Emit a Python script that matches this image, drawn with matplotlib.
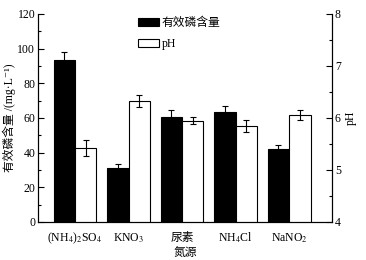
import numpy as np
import matplotlib
matplotlib.use("Agg")
import matplotlib.pyplot as plt
from matplotlib.ticker import MultipleLocator

plt.rcParams['font.family'] = ['Liberation Serif', 'Noto Sans CJK SC', 'DejaVu Serif']
plt.rcParams['mathtext.fontset'] = 'stix'

# data
sources = ["(NH$_4$)$_2$SO$_4$", "KNO$_3$", "尿素", "NH$_4$Cl", "NaNO$_2$"]
phosphorus = [93.2, 31.0, 60.7, 63.2, 42.0]
phosphorus_err = [5.0, 2.5, 4.2, 4.0, 2.5]
ph = [5.42, 6.33, 5.95, 5.85, 6.06]
ph_err = [0.15, 0.11, 0.07, 0.12, 0.10]

x = np.arange(len(sources))
w = 0.4

fig = plt.figure(figsize=(3.66, 2.6), dpi=100)
ax = fig.add_axes([38 / 366, 38 / 260, 294 / 366, 208 / 260])
ax2 = ax.twinx()

ax.bar(x - w / 2, phosphorus, w, color="black", edgecolor="black", linewidth=0.8,
       label="有效磷含量", zorder=2)
ax.errorbar(x - w / 2, phosphorus, yerr=phosphorus_err, fmt="none", ecolor="black",
            elinewidth=0.8, capsize=2.5, capthick=0.8, zorder=3)

ax2.bar(x + w / 2, np.array(ph) - 4, w, bottom=4, color="white", edgecolor="black",
        linewidth=0.8, label="pH", zorder=2)
ax2.errorbar(x + w / 2, ph, yerr=ph_err, fmt="none", ecolor="black",
             elinewidth=0.8, capsize=2.5, capthick=0.8, zorder=3)

ax.set_xlim(-0.69, 4.80)
ax.set_ylim(0, 120)
ax2.set_ylim(4, 8)
ax.yaxis.set_major_locator(MultipleLocator(20))
ax.yaxis.set_minor_locator(MultipleLocator(10))
ax2.yaxis.set_major_locator(MultipleLocator(1))
ax2.yaxis.set_minor_locator(MultipleLocator(0.5))

for a in (ax, ax2):
    a.spines["top"].set_visible(False)
    for s in a.spines.values():
        s.set_linewidth(0.8)
    a.tick_params(axis="y", which="both", direction="in", labelsize=8.5, width=0.8, pad=2)
    a.tick_params(axis="y", which="major", length=4)
    a.tick_params(axis="y", which="minor", length=2.5)

ax.set_xticks(x)
ax.set_xticklabels(sources)
ax.tick_params(axis="x", length=0, labelsize=8.5, pad=14)
for lbl in ax.get_xticklabels():
    lbl.set_verticalalignment("baseline")

ax.set_xlabel("氮源", fontsize=8.5, labelpad=1)
ax.set_ylabel("有效磷含量 /(mg·L⁻¹)", fontsize=8.5, labelpad=1)
ax2.set_ylabel("pH", fontsize=8.5, labelpad=3)

h1, l1 = ax.get_legend_handles_labels()
h2, l2 = ax2.get_legend_handles_labels()
ax.legend(h1 + h2, l1 + l2, loc="upper left", bbox_to_anchor=(0.34, 0.985),
          frameon=False, fontsize=8.5, handlelength=1.8, handleheight=0.6,
          handletextpad=0.2, labelspacing=0.75, borderpad=0, borderaxespad=0)

fig.savefig("out.png", dpi=100)
